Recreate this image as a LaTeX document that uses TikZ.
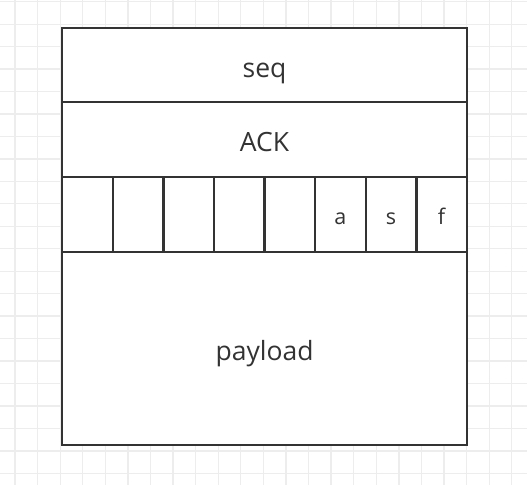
\documentclass[tikz,border=0pt]{standalone}
\usepackage{fontspec}
\setmainfont{Open Sans}
\definecolor{gridc}{HTML}{EDEDED}
\definecolor{linec}{HTML}{333333}
\definecolor{textc}{HTML}{333333}
\begin{document}
\begin{tikzpicture}[x=1pt,y=-1pt,
  cell/.style={draw=linec,line width=2.4pt,fill=white,text=textc,inner sep=0pt},
  bigtxt/.style={font=\fontsize{26.5}{30}\selectfont,text height=30pt,text depth=6pt},
  smalltxt/.style={font=\fontsize{21.5}{25}\selectfont,text height=25pt,text depth=5pt}]
\useasboundingbox (0,0) rectangle (527,485);
\fill[white] (0,0) rectangle (527,485);
\foreach \k in {0,...,22} \draw[gridc,line width=1.3pt] ({15+22.58*\k},0) -- ({15+22.58*\k},485);
\foreach \k in {0,...,21} \draw[gridc,line width=1.3pt] (0,{1.7+22.46*\k}) -- (527,{1.7+22.46*\k});
\node[cell,bigtxt,minimum width=404.7pt,minimum height=74pt,anchor=north west] (seq) at (61,27) {seq};
\node[cell,bigtxt,minimum width=404.7pt,minimum height=75pt,anchor=north west] (ack) at (61,101) {ACK};
\foreach \i/\t in {0/,1/,2/,3/,4/,5/a,6/s,7/f}
  \node[cell,smalltxt,minimum width=50.6pt,minimum height=75pt,anchor=north west] (f\i) at ({61+50.59*\i},176) {\t};
\node[cell,bigtxt,minimum width=404.7pt,minimum height=192.5pt,anchor=north west] (payload) at (61,251) {payload};
\end{tikzpicture}
\end{document}
